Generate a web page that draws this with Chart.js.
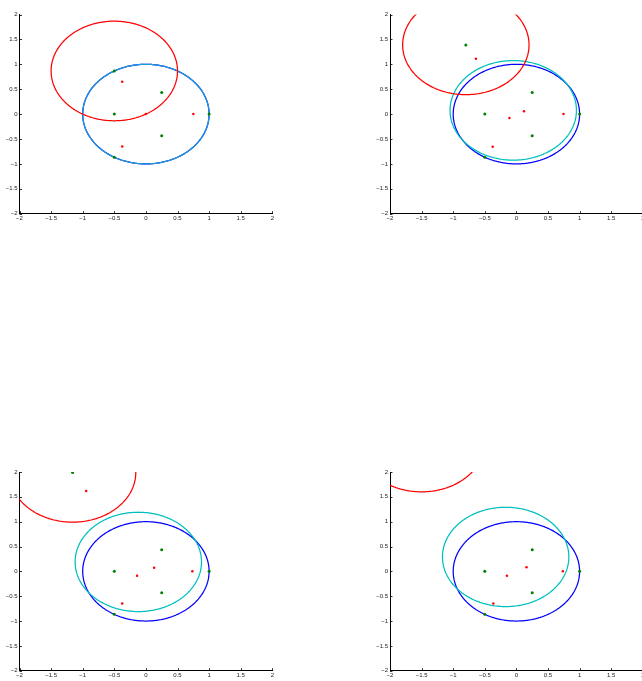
<!DOCTYPE html>
<html>
<head>
<meta charset="utf-8">
<script src="https://cdn.jsdelivr.net/npm/chart.js@4.4.1/dist/chart.umd.min.js"></script>
<style>
  html, body { margin: 0; padding: 0; background: #fff; overflow: hidden; }
  body { width: 642px; height: 681px; position: relative; }
  .panel { position: absolute; }
</style>
</head>
<body>
<canvas id="c0" class="panel" width="290" height="230" style="left:0px;top:0px"></canvas>
<canvas id="c1" class="panel" width="290" height="230" style="left:369px;top:0px"></canvas>
<canvas id="c2" class="panel" width="290" height="230" style="left:0px;top:457px"></canvas>
<canvas id="c3" class="panel" width="290" height="230" style="left:369px;top:457px"></canvas>
<script>
// Axis ticks shared by all four panels
const tickValues = [-2, -1.5, -1, -0.5, 0, 0.5, 1, 1.5, 2];

// Green points (one list per panel)
const greenX = [
  [1, 0.25, -0.5, 0.25, -0.5, -0.5],
  [1, 0.25, -0.5, 0.25, -0.5, -0.8],
  [1, 0.25, -0.5, 0.25, -0.5, -1.16],
  [1, 0.25, -0.5, 0.25, -0.5, -1.5],
];
const greenY = [
  [0, 0.433, 0, -0.433, -0.866, 0.866],
  [0, 0.433, 0, -0.433, -0.866, 1.39],
  [0, 0.433, 0, -0.433, -0.866, 1.99],
  [0, 0.433, 0, -0.433, -0.866, 2.6],
];

// Red points
const redX = [
  [0, 0.75, -0.375, -0.375],
  [-0.11, 0.12, 0.745, -0.375, -0.64],
  [-0.14, 0.13, 0.735, -0.375, -0.945],
  [-0.15, 0.16, 0.735, -0.365],
];
const redY = [
  [0, 0, 0.65, -0.65],
  [-0.08, 0.055, 0, -0.655, 1.11],
  [-0.09, 0.07, 0, -0.647, 1.62],
  [-0.09, 0.085, 0, -0.647],
];

// Circles: centre and radius per panel
const redCircleX = [-0.5, -0.8, -1.16, -1.5];
const redCircleY = [0.866, 1.39, 1.99, 2.6];
const cyanCircleX = [0, -0.05, -0.12, -0.17];
const cyanCircleY = [0, 0.075, 0.19, 0.29];
const blueCircleX = [0, 0, 0, 0];
const blueCircleY = [0, 0, 0, 0];
const circleRadius = 1;

// left offset of the y axis inside each canvas (px)
const axisLeft = [19.5, 21, 19.5, 21];
const topPad = [14.5, 14.5, 15, 15];

// outline of a circle as points for a line dataset
const circlePts = (cx, cy, r) => {
  const pts = [];
  for (let i = 0; i <= 180; i++) {
    const a = (i / 180) * Math.PI * 2;
    pts.push({ x: cx + r * Math.cos(a), y: cy + r * Math.sin(a) });
  }
  return pts;
};

const toPts = (xs, ys) => xs.map((x, i) => ({ x: x, y: ys[i] }));

const fmt = (v) => (v < 0 ? '\u2212' + Math.abs(v) : String(v));

// small inward tick marks, matlab style
const inwardTicks = {
  id: 'inwardTicks',
  afterDraw(chart) {
    const { ctx, chartArea, scales } = chart;
    ctx.save();
    ctx.strokeStyle = '#000';
    ctx.lineWidth = 0.8;
    ctx.beginPath();
    tickValues.forEach((v) => {
      const px = Math.round(scales.x.getPixelForValue(v)) + 0.5;
      ctx.moveTo(px, chartArea.bottom);
      ctx.lineTo(px, chartArea.bottom - 2.5);
      const py = Math.round(scales.y.getPixelForValue(v)) + 0.5;
      ctx.moveTo(chartArea.left, py);
      ctx.lineTo(chartArea.left + 2.5, py);
    });
    ctx.stroke();
    ctx.restore();
  },
};

const makeChart = (idx) => {
  const ctx = document.getElementById('c' + idx).getContext('2d');
  const width = 252.8;
  const circleLine = {
    showLine: true,
    borderWidth: 1.25,
    pointRadius: 0,
    tension: 0.05,
  };
  const datasets = [
    {
      label: 'green',
      data: toPts(greenX[idx], greenY[idx]),
      pointRadius: 1.5,
      pointBackgroundColor: '#008000',
      pointBorderWidth: 0,
      showLine: false,
      order: 0,
    },
    {
      label: 'red',
      data: toPts(redX[idx], redY[idx]),
      pointRadius: 1.25,
      pointBackgroundColor: '#ff0000',
      pointBorderWidth: 0,
      showLine: false,
      order: 1,
    },
    {
      label: 'red circle',
      data: circlePts(redCircleX[idx], redCircleY[idx], circleRadius),
      borderColor: '#ff0000',
      order: 2,
      ...circleLine,
    },
    {
      label: 'cyan circle',
      data: circlePts(cyanCircleX[idx], cyanCircleY[idx], circleRadius),
      // in the first panel cyan sits exactly on the blue circle
      borderColor: idx === 0 ? '#1c9ad8' : '#00bfbf',
      order: 3,
      ...circleLine,
    },
    {
      label: 'blue circle',
      data: circlePts(blueCircleX[idx], blueCircleY[idx], circleRadius),
      borderColor: '#0000ff',
      order: 4,
      ...circleLine,
    },
  ];

  const tickFont = { family: 'Liberation Sans', size: 6 };

  return new Chart(ctx, {
    type: 'scatter',
    data: { datasets: datasets },
    options: {
      responsive: false,
      animation: false,
      events: [],
      layout: {
        padding: {
          left: 0,
          top: topPad[idx],
          right: 290 - axisLeft[idx] - width,
          bottom: 0,
        },
      },
      plugins: {
        legend: { display: false },
        tooltip: { enabled: false },
      },
      scales: {
        x: {
          type: 'linear',
          min: -2,
          max: 2,
          afterBuildTicks: (scale) => {
            scale.ticks = tickValues.map((v) => ({ value: v }));
          },
          afterFit: (scale) => {
            scale.height = 16.3;
            scale.paddingLeft = 0;
            scale.paddingRight = 0;
          },
          grid: { display: true, drawOnChartArea: false, drawTicks: false },
          border: { display: true, color: '#000', width: 1 },
          ticks: {
            font: tickFont,
            color: '#222',
            padding: 1.5,
            maxRotation: 0,
            autoSkip: false,
            callback: (v) => fmt(v),
          },
        },
        y: {
          type: 'linear',
          min: -2,
          max: 2,
          afterBuildTicks: (scale) => {
            scale.ticks = tickValues.map((v) => ({ value: v }));
          },
          afterFit: (scale) => {
            scale.width = axisLeft[idx];
            scale.paddingTop = 0;
            scale.paddingBottom = 0;
          },
          grid: { display: true, drawOnChartArea: false, drawTicks: false },
          border: { display: true, color: '#000', width: 1 },
          ticks: {
            font: tickFont,
            color: '#222',
            padding: 2,
            autoSkip: false,
            callback: (v) => fmt(v),
          },
        },
      },
    },
    plugins: [inwardTicks],
  });
};

[0, 1, 2, 3].forEach((i) => makeChart(i));
</script>
</body>
</html>
